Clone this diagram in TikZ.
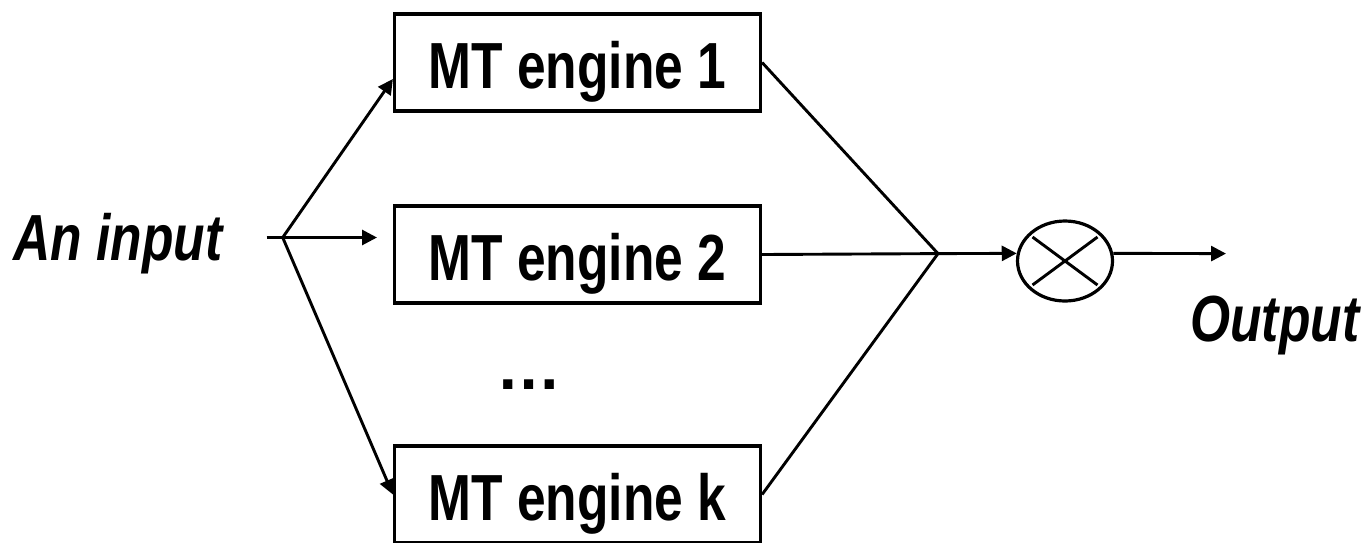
\documentclass[tikz,border=0pt]{standalone}
\usepackage{fontspec}
\setmainfont{Liberation Sans}
\newfontfamily\nfont{Liberation Sans}[FakeStretch=0.79]
\newfontfamily\dfont{Liberation Sans}
\usetikzlibrary{arrows.meta,shapes.geometric}
\begin{document}
\begin{tikzpicture}[x=0.5pt,y=-0.5pt,
  lbl/.style={font=\nfont\fontsize{32.6}{39}\selectfont\bfseries},
  ilbl/.style={font=\nfont\fontsize{32.6}{39}\selectfont\bfseries\itshape},
  engine/.style={draw,line width=1.6pt,minimum width=183pt,minimum height=48.5pt,
    inner sep=0pt,text height=37.15pt,text depth=11.35pt,lbl},
  conn/.style={line width=1.45pt},
  arr/.style={conn,-{Triangle[length=7.5pt,width=7.5pt]}},
  combiner/.style={draw,ellipse,line width=1.6pt,minimum width=47.5pt,minimum height=40pt,inner sep=0pt}
]
\useasboundingbox (0,0) rectangle (1369,542);
\fill[white] (0,0) rectangle (1369,542);

\node[engine] (b1) at (577.5,62.5) {MT engine 1};
\node[engine] (b2) at (577.5,254.5) {MT engine 2};
\node[engine] (bk) at (577.5,494.5) {MT engine k};
\node[font=\dfont\fontsize{32.6}{39}\selectfont\bfseries,anchor=base,inner sep=0pt] (dots) at (529.5,389) {…};

\node[ilbl,anchor=base west,inner sep=0pt] (inlbl) at (13,260) {An input};
\node[ilbl,anchor=base west,inner sep=0pt] (outlbl) at (1190,341.7) {Output};

\node[combiner] (ell) at (1065,261) {};
\draw[conn] ([xshift=-16.25pt,yshift=12pt]ell.center) -- ([xshift=16.25pt,yshift=-12pt]ell.center);
\draw[conn] ([xshift=16.25pt,yshift=12pt]ell.center) -- ([xshift=-16.25pt,yshift=-12pt]ell.center);

\coordinate (in) at (266.7,237.5);
\coordinate (sp) at (282.7,237.5);
\coordinate (a2) at (377,237.5);
\coordinate (merge) at (938,253.6);
\coordinate (out) at (1226,253.6);

\draw[conn] (in) -- (sp);
\draw[arr] (sp) -- ([yshift=-8.25pt]b1.west);
\draw[arr] (sp) -- (a2);
\draw[arr] (sp) -- (bk.west);

\draw[conn] (b1.east) -- (merge);
\draw[conn] (b2.east) -- (merge);
\draw[conn] (bk.east) -- (merge);
\draw[arr] (merge) -- (ell.171);
\draw[arr] (ell.9) -- (out);
\end{tikzpicture}
\end{document}
